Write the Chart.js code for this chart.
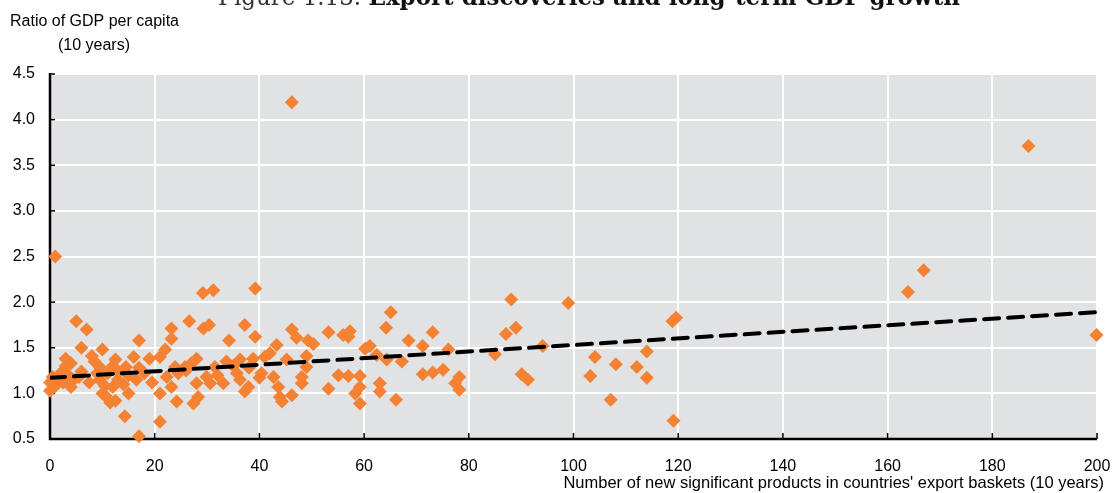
<!DOCTYPE html>
<html>
<head>
<meta charset="utf-8">
<script src="https://cdn.jsdelivr.net/npm/chart.js@4.4.1/dist/chart.umd.min.js"></script>
<style>
html,body{margin:0;padding:0;background:#fff;}
#wrap{width:1112px;height:493px;position:relative;}
</style>
</head>
<body>
<div id="wrap"><canvas id="c" width="1112" height="493"></canvas></div>
<script>
// ---- Data ----
const chartTitle = "Export discoveries and long-term GDP growth";
const figureLabel = "Figure 1.13.";
const yAxisTitle = ["Ratio of GDP per capita", "(10 years)"];
const xAxisTitle = "Number of new significant products in countries' export baskets (10 years)";

const xTicks = [0,20,40,60,80,100,120,140,160,180,200];
const yTicks = [0.5,1.0,1.5,2.0,2.5,3.0,3.5,4.0,4.5];

const newProducts = [
  0,0,0.5,1,1,1.5,2,2.5,3,3,3.5,4,4,4.5,5,5.5,6,6,7,7.5,8,8.5,9,9.5,9.5,10,10,10.5,11,11,11.5,12,12,12.5,12.5,13,13,14,14.5,14.3,15,15,16,16.5,17,17,17,18,19,19.5,
  21,21,21,22,22.3,23.2,23.2,23.2,23.9,24.2,24.5,25.8,26,26.6,27,27.4,28,28,28.3,29.2,29.3,29.9,30.4,30.6,31.2,31.5,32,33.1,33.7,34.2,35,35.7,36.3,36.3,37.2,37.2,37.9,38,38.8,39.2,39.2,40,40.4,41,42,42.7,43.3,43.6,43.9,44.3,45.2,
  46.2,46.2,46.2,47.1,48.1,48.1,49,49,49.3,50.3,53.2,53.2,55.1,56,57.3,57,57,58.3,59.2,59.2,59.2,60.2,61.1,62.4,63,63,64.2,64.3,65.1,66.1,67.2,68.5,
  71.2,71.2,73.1,73.1,75.1,76.1,77.4,78.2,78.2,85,87.1,88.1,89,90.1,91.3,94.1,99,103.2,104.1,107.1,108.1,112.1,114,114,118.9,119.6,119.1,163.9,166.9,186.9,199.9
];
const gdpRatio = [
  1.03,1.12,1.18,2.50,1.08,1.16,1.22,1.12,1.30,1.38,1.20,1.07,1.33,1.15,1.79,1.18,1.50,1.24,1.70,1.12,1.41,1.35,1.22,1.29,1.15,1.48,1.00,1.08,0.95,1.22,0.90,1.07,1.30,0.92,1.37,1.15,1.24,1.10,1.29,0.75,1.00,1.20,1.40,1.15,1.58,0.53,1.28,1.22,1.38,1.12,
  1.40,1.00,0.69,1.48,1.18,1.71,1.60,1.07,1.29,0.91,1.22,1.29,1.25,1.79,1.33,0.89,1.38,1.11,0.96,2.10,1.71,1.18,1.75,1.11,2.13,1.29,1.20,1.11,1.35,1.58,1.30,1.22,1.37,1.15,1.75,1.02,1.07,1.28,1.38,2.15,1.62,1.17,1.22,1.40,1.44,1.18,1.53,1.07,0.96,0.91,1.37,
  4.19,1.70,0.98,1.61,1.18,1.11,1.41,1.29,1.58,1.54,1.67,1.05,1.20,1.64,1.68,1.62,1.19,1.00,1.19,1.07,0.89,1.49,1.52,1.42,1.11,1.02,1.72,1.37,1.89,0.93,1.35,1.58,
  1.52,1.21,1.67,1.23,1.26,1.48,1.11,1.18,1.04,1.43,1.65,2.03,1.72,1.21,1.15,1.52,1.99,1.19,1.40,0.93,1.32,1.29,1.46,1.17,1.79,1.83,0.70,2.11,2.35,3.71,1.64
];
const trendX = [0, 200];
const trendY = [1.17, 1.89];

// ---- Build ----
const points = newProducts.map((x,i)=>({x:x, y:gdpRatio[i]}));
const trend = trendX.map((x,i)=>({x:x, y:trendY[i]}));

const FONT = "'Liberation Sans Narrow','Arial Narrow','Liberation Sans',Arial,sans-serif";

const decorPlugin = {
  id:'decor',
  beforeDraw(chart){
    const {ctx, chartArea:a} = chart;
    ctx.save();
    ctx.fillStyle = '#e1e2e4';
    ctx.fillRect(a.left, a.top, a.right-a.left, a.bottom-a.top);
    ctx.restore();
  },
  beforeDatasetsDraw(chart){
    const {ctx, chartArea:a, scales} = chart;
    ctx.save();
    ctx.strokeStyle = '#000';
    ctx.lineWidth = 2.5;
    ctx.beginPath();
    ctx.moveTo(a.left, a.top-1);
    ctx.lineTo(a.left, a.bottom);
    ctx.lineTo(a.right, a.bottom);
    ctx.stroke();
    ctx.lineWidth = 1.5;
    xTicks.forEach(v=>{
      const px = scales.x.getPixelForValue(v);
      ctx.beginPath(); ctx.moveTo(px, a.bottom); ctx.lineTo(px, a.bottom-6); ctx.stroke();
    });
    yTicks.forEach(v=>{
      const py = scales.y.getPixelForValue(v);
      ctx.beginPath(); ctx.moveTo(a.left, py); ctx.lineTo(a.left+5, py); ctx.stroke();
    });
    ctx.restore();
  },
  afterDraw(chart){
    const {ctx} = chart;
    ctx.save();
    ctx.fillStyle = '#000';
    ctx.textBaseline = 'middle';
    ctx.font = "16px " + FONT;
    ctx.textAlign = 'left';
    ctx.fillText(yAxisTitle[0], 10, 22);
    ctx.fillText(yAxisTitle[1], 58, 46);
    ctx.textAlign = 'right';
    ctx.font = "16.5px " + FONT;
    ctx.fillText(xAxisTitle, 1104, 483);
    // partially visible figure title at the very top
    ctx.textBaseline = 'alphabetic';
    ctx.textAlign = 'left';
    const fPart = "24px 'DejaVu Serif','Liberation Serif',serif";
    const bPart = "bold 24px 'DejaVu Serif','Liberation Serif',serif";
    ctx.font = fPart; const w1 = ctx.measureText(figureLabel + " ").width;
    ctx.font = bPart; const w2 = ctx.measureText(chartTitle).width;
    const target = 742, sx = target/(w1+w2);
    ctx.translate(218, 5);
    ctx.scale(sx, 1);
    ctx.fillStyle = '#333';
    ctx.font = fPart; ctx.fillText(figureLabel + " ", 0, 0);
    ctx.fillStyle = '#111';
    ctx.font = bPart; ctx.fillText(chartTitle, w1, 0);
    ctx.restore();
  }
};

new Chart(document.getElementById('c'), {
  type:'scatter',
  data:{
    datasets:[
      {
        label:'trend', type:'line', data:trend, order:0,
        borderColor:'#000', borderWidth:4, borderDash:[15,9], borderCapStyle:'round',
        pointRadius:0, fill:false, showLine:true, tension:0
      },
      {
        label:'countries', data:points, order:1,
        pointStyle:'rectRot', pointRadius:7, pointHoverRadius:7,
        backgroundColor:'#f58232', borderColor:'#f58232', borderWidth:0, clip:false
      }
    ]
  },
  options:{
    responsive:false, animation:false,
    events:[],
    layout:{padding:{left:0, right:15, top:74, bottom:0}},
    plugins:{legend:{display:false}, tooltip:{enabled:false}},
    scales:{
      x:{
        type:'linear', min:0, max:200,
        afterFit(s){ s.height = 54; s.paddingLeft = 0; s.paddingRight = 0; },
        afterBuildTicks(s){ s.ticks = xTicks.map(v=>({value:v})); },
        grid:{color:'#ffffff', lineWidth:2, drawTicks:false},
        border:{display:false},
        ticks:{padding:18, color:'#000', font:{family:FONT, size:16}, maxRotation:0}
      },
      y:{
        type:'linear', min:0.5, max:4.5,
        afterFit(s){ s.width = 50; s.paddingTop = 0; s.paddingBottom = 0; },
        afterBuildTicks(s){ s.ticks = yTicks.map(v=>({value:v})); },
        grid:{color:'#ffffff', lineWidth:2, drawTicks:false},
        border:{display:false},
        ticks:{padding:15, color:'#000', font:{family:FONT, size:16}, callback:v=>v.toFixed(1)}
      }
    }
  },
  plugins:[decorPlugin]
});
</script>
</body>
</html>
